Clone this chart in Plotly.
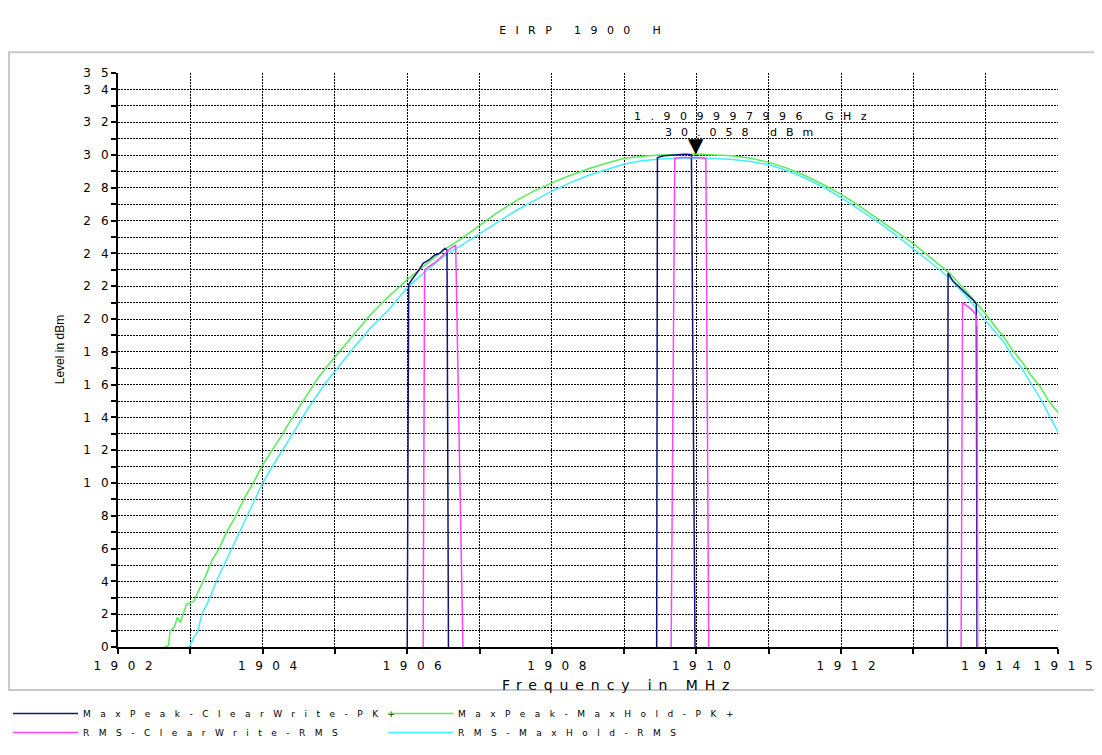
import plotly.graph_objects as go

# ---------------- data ----------------
freq_pk_maxhold = [1902.65, 1902.70, 1902.72, 1902.78, 1902.82, 1902.86, 1902.90, 1902.95, 1903.00,
                   1903.05, 1903.10, 1903.20, 1903.30, 1903.40, 1903.50, 1903.62, 1903.75, 1903.87,
                   1904.00, 1904.12, 1904.25, 1904.37, 1904.50, 1904.62, 1904.75, 1904.87, 1905.00,
                   1905.25, 1905.50, 1905.75, 1906.00, 1906.25, 1906.50, 1906.75, 1907.00, 1907.25,
                   1907.50, 1907.75, 1908.00, 1908.25, 1908.50, 1908.75, 1909.00, 1909.25, 1909.50,
                   1909.75, 1910.00, 1910.25, 1910.50, 1910.75, 1911.00, 1911.25, 1911.50, 1911.75,
                   1912.00, 1912.25, 1912.50, 1912.75, 1913.00, 1913.25, 1913.50, 1913.75, 1914.00,
                   1914.12, 1914.25, 1914.37, 1914.50, 1914.62, 1914.75, 1914.87, 1915.00]
level_pk_maxhold = [0.0, 0.1, 1.0, 1.2, 1.8, 1.5, 2.0, 2.6, 2.7,
                    2.8, 3.3, 4.2, 5.3, 6.0, 7.0, 7.9, 9.1, 10.0,
                    11.1, 11.9, 12.8, 13.7, 14.6, 15.4, 16.3, 17.0, 17.7,
                    19.0, 20.3, 21.4, 22.4, 23.3, 24.2, 24.9, 25.7, 26.5,
                    27.2, 27.8, 28.3, 28.75, 29.15, 29.5, 29.8, 29.93, 30.0,
                    30.03, 30.06, 30.0, 29.95, 29.8, 29.55, 29.2, 28.75, 28.2,
                    27.6, 26.9, 26.15, 25.4, 24.6, 23.7, 22.8, 21.6, 20.3,
                    19.6, 18.9, 18.1, 17.4, 16.6, 15.9, 15.0, 14.3]

freq_rms_maxhold = [1902.97, 1903.00, 1903.05, 1903.10, 1903.16, 1903.25, 1903.37, 1903.50, 1903.62,
                    1903.75, 1903.87, 1904.00, 1904.12, 1904.25, 1904.37, 1904.50, 1904.62, 1904.75,
                    1904.87, 1905.00, 1905.25, 1905.50, 1905.75, 1906.00, 1906.25, 1906.50, 1906.75,
                    1907.00, 1907.25, 1907.50, 1907.75, 1908.00, 1908.25, 1908.50, 1908.75, 1909.00,
                    1909.25, 1909.50, 1909.75, 1910.00, 1910.25, 1910.50, 1910.75, 1911.00, 1911.25,
                    1911.50, 1911.75, 1912.00, 1912.25, 1912.50, 1912.75, 1913.00, 1913.25, 1913.50,
                    1913.75, 1914.00, 1914.12, 1914.25, 1914.37, 1914.50, 1914.62, 1914.75, 1914.87,
                    1915.00]
level_rms_maxhold = [0.0, 0.1, 0.6, 0.9, 2.0, 2.8, 4.1, 5.3, 6.4,
                     7.6, 8.8, 10.0, 10.9, 11.8, 12.7, 13.6, 14.5, 15.3,
                     16.1, 16.8, 18.2, 19.5, 20.6, 21.9, 22.9, 23.8, 24.5,
                     25.2, 25.9, 26.6, 27.2, 27.8, 28.3, 28.75, 29.1, 29.45,
                     29.65, 29.75, 29.8, 29.8, 29.78, 29.72, 29.6, 29.4, 29.05,
                     28.6, 28.05, 27.4, 26.7, 25.95, 25.15, 24.3, 23.4, 22.5,
                     21.3, 19.9, 19.3, 18.6, 17.7, 17.0, 16.1, 15.2, 14.2,
                     13.1]

freq_pk_clearwrite = [1906.00, 1906.02, 1906.08, 1906.15, 1906.22, 1906.30, 1906.38, 1906.45, 1906.52,
                      1906.55, 1906.57, None,
                      1909.45, 1909.46, 1909.55, 1909.65, 1909.75, 1909.85, 1909.93, 1909.98, None,
                      1913.47, 1913.48, 1913.55, 1913.62, 1913.70, 1913.77, 1913.84, 1913.87, 1913.88]
level_pk_clearwrite = [0.0, 22.1, 22.5, 22.9, 23.4, 23.6, 23.9, 24.0, 24.3,
                       24.2, 0.0, None,
                       0.0, 29.85, 29.95, 30.0, 30.02, 30.05, 30.0, 0.0, None,
                       0.0, 22.8, 22.3, 22.0, 21.7, 21.4, 21.1, 20.9, 0.0]

freq_rms_clearwrite = [1906.22, 1906.24, 1906.30, 1906.40, 1906.50, 1906.60, 1906.67, 1906.77, None,
                       1909.65, 1909.70, 1909.80, 1909.90, 1910.00, 1910.13, 1910.17, None,
                       1913.66, 1913.68, 1913.74, 1913.80, 1913.86, 1913.88, 1913.89]
level_rms_clearwrite = [0.0, 23.0, 23.2, 23.5, 23.9, 24.3, 24.5, 0.0, None,
                        0.0, 29.8, 29.85, 29.85, 29.85, 29.8, 0.0, None,
                        0.0, 21.0, 20.8, 20.6, 20.3, 19.5, 0.0]

marker_freq_mhz = 1909.997996
marker_level = 30.058
marker_label_freq = "1.909997996 GHz"
marker_label_level = "30.058 dBm"

x_tickvals = list(range(1902, 1916))
x_ticktext = ["1902", "", "1904", "", "1906", "", "1908", "", "1910", "", "1912", "", "1914", "1915"]
y_tickvals = list(range(0, 36))
y_ticktext = [str(v) if (v % 2 == 0 or v == 35) else "" for v in y_tickvals]

series_names = ["MaxPeak-ClearWrite-PK+", "MaxPeak-MaxHold-PK+", "RMS-ClearWrite-RMS", "RMS-MaxHold-RMS"]
series_colors = ["#14147a", "#55ee55", "#ff44ff", "#44eeff"]

FONT = "DejaVu Sans, Verdana, sans-serif"
NARROW = "Liberation Sans, Arial, sans-serif"


def sp(s, px):
    """letter-spaced text (spacing between glyphs, none after the last)."""
    if not s:
        return s
    return f'<span style="letter-spacing:{px}px">{s[:-1]}</span>{s[-1]}'


fig = go.Figure()

# background curves (MaxHold) first, then the ClearWrite bursts on top
fig.add_trace(go.Scatter(x=freq_pk_maxhold, y=level_pk_maxhold, mode="lines",
                         name=sp(series_names[1], 9.5), legend="legend2", legendrank=1,
                         line=dict(color=series_colors[1], width=1.5)))
fig.add_trace(go.Scatter(x=freq_rms_maxhold, y=level_rms_maxhold, mode="lines",
                         name=sp(series_names[3], 9.5), legend="legend2", legendrank=2,
                         line=dict(color=series_colors[3], width=1.5)))
fig.add_trace(go.Scatter(x=freq_pk_clearwrite, y=level_pk_clearwrite, mode="lines",
                         name=sp(series_names[0], 9.5), legend="legend", legendrank=1,
                         connectgaps=False,
                         line=dict(color=series_colors[0], width=1.5)))
fig.add_trace(go.Scatter(x=freq_rms_clearwrite, y=level_rms_clearwrite, mode="lines",
                         name=sp(series_names[2], 9.5), legend="legend", legendrank=2,
                         connectgaps=False,
                         line=dict(color=series_colors[2], width=1.5)))

# marker triangle and readout
fig.add_annotation(x=marker_freq_mhz, y=marker_level, text="▼", showarrow=False,
                   xanchor="center", yanchor="bottom", yshift=-5,
                   font=dict(size=20, color="black", family="DejaVu Sans"))
fig.add_annotation(x=marker_freq_mhz, y=marker_level, text=sp(marker_label_freq, 9.5),
                   showarrow=False, xanchor="center", yanchor="middle", xshift=54, yshift=38,
                   font=dict(size=11, color="black", family=FONT))
fig.add_annotation(x=marker_freq_mhz, y=marker_level, text=sp(marker_label_level, 9),
                   showarrow=False, xanchor="center", yanchor="middle", xshift=43, yshift=22,
                   font=dict(size=11, color="black", family=FONT))

# axis titles
fig.add_annotation(xref="paper", yref="paper", x=-0.0617, y=0.517, text="Level in dBm",
                   textangle=-90, showarrow=False, xanchor="center", yanchor="middle",
                   font=dict(size=12, color="black", family=NARROW))
fig.add_annotation(xref="paper", yref="paper", x=0.529, y=-0.066,
                   text=sp("Frequency in MHz", 6.9), showarrow=False,
                   xanchor="center", yanchor="middle",
                   font=dict(size=14, color="black", family=FONT))

# outer light-grey frame
fig.add_shape(type="rect", xref="paper", yref="paper",
              x0=-0.116, x1=1.07, y0=-0.0749, y1=1.036,
              line=dict(color="#c8c8c8", width=2), layer="below")

axis_common = dict(showgrid=True, gridcolor="black", gridwidth=1, griddash="2px,1px",
                   showline=True, linecolor="black", zeroline=False, automargin=False,
                   ticks="outside", ticklen=5, tickcolor="black", tickwidth=1.5)

fig.update_layout(
    width=1102, height=755,
    margin=dict(l=110, r=52, t=65, b=116, autoexpand=False),
    paper_bgcolor="white", plot_bgcolor="white",
    font=dict(family=FONT, color="black"),
    title=dict(text=sp("EIRP 1900 H", 9.4), x=572 / 1102, xref="container", xanchor="center",
               y=1 - 22 / 755, yref="container", yanchor="middle",
               font=dict(size=11, color="black", family=FONT)),
    xaxis=dict(range=[1902, 1915], tickvals=x_tickvals,
               ticktext=[sp(t, 9.5) for t in x_ticktext],
               tickfont=dict(size=12, color="black", family=FONT),
               linewidth=1.5, ticklabelstandoff=2, ticklabelshift=5, tickangle=0,
               **axis_common),
    yaxis=dict(range=[0, 35], tickvals=y_tickvals,
               ticktext=[sp(t, 10) for t in y_ticktext],
               tickfont=dict(size=12, color="black", family=FONT),
               linewidth=2,
               **axis_common),
    legend=dict(orientation="v", xref="container", yref="container",
                x=0, y=1 - 691 / 755, xanchor="left", yanchor="top",
                itemwidth=65, tracegroupgap=0, bgcolor="rgba(0,0,0,0)",
                font=dict(size=9, color="black", family=FONT)),
    legend2=dict(orientation="v", xref="container", yref="container",
                 x=375 / 1102, y=1 - 691 / 755, xanchor="left", yanchor="top",
                 itemwidth=65, tracegroupgap=0, bgcolor="rgba(0,0,0,0)",
                 font=dict(size=9, color="black", family=FONT)),
    showlegend=True,
)

fig.write_html("out.html")
